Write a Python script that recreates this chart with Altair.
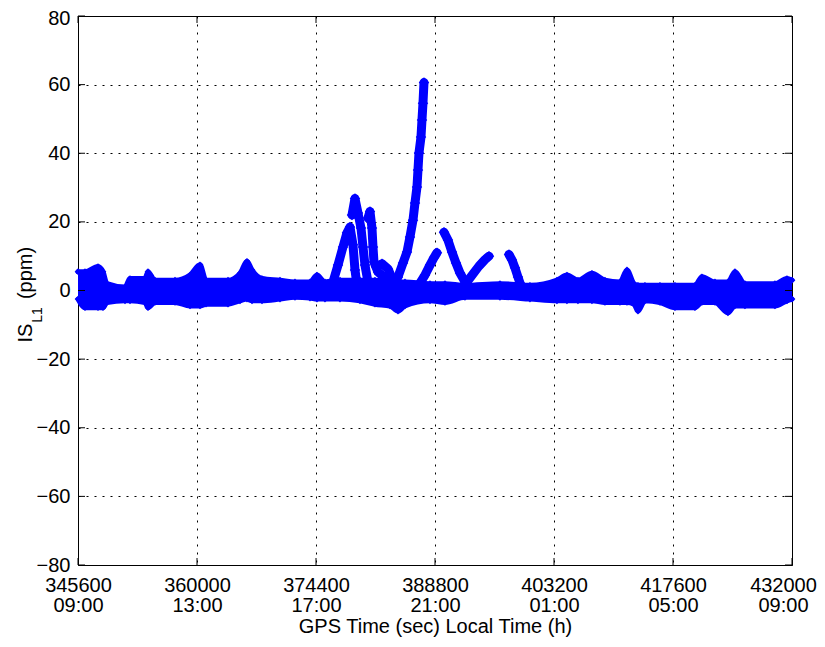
import altair as alt
import pandas as pd

BLUE = "#0000FF"
FONT = "Liberation Sans"

# ---- axes ----
x_ticks = [345600, 360000, 374400, 388800, 403200, 417600, 432000]
local_time = ["09:00", "13:00", "17:00", "21:00", "01:00", "05:00", "09:00"]
y_ticks = [-80, -60, -40, -20, 0, 20, 40, 60, 80]
x_title = "GPS Time (sec) Local Time (h)"
y_title_main = ["IS"]
y_title_sub = ["L1"]
y_title_unit = ["(ppm)"]

# ---- dense band around zero (upper / lower envelope) ----
band_x = [345600, 346447, 348020, 348625, 349109, 351287, 351892, 353707, 354070,
          354917, 357337, 359152, 360362, 361088, 363750, 365202, 366049, 366654,
          367864, 370042, 371857, 373672, 374519, 375487, 377302, 379722, 381537,
          383352, 384320, 385167, 388192, 390007, 392427, 396662, 400292, 403559,
          404769, 406100, 407794, 409367, 411182, 412029, 412876, 413360, 414207,
          416022, 417837, 420257, 421104, 422677, 424250, 425097, 426307, 429937,
          431389, 432000]
band_hi = [5.5, 5.5, 7.0, 5.5, 2.0, 1.0, 3.5, 3.5, 5.5,
           3.0, 3.0, 4.5, 7.5, 3.0, 3.0, 5.0, 8.5, 6.0,
           3.5, 3.0, 2.5, 2.5, 4.5, 2.5, 3.0, 3.0, 3.0,
           2.5, 2.5, 2.5, 2.0, 2.0, 1.5, 2.0, 1.5, 3.0,
           4.5, 3.0, 5.0, 3.0, 2.5, 6.0, 2.0, 1.5, 1.5,
           1.5, 1.5, 1.5, 4.0, 2.5, 2.5, 5.5, 2.0, 2.0,
           3.5, 3.0]
band_lo = [-2.5, -5.0, -5.0, -5.0, -3.5, -3.0, -3.0, -3.5, -5.0,
           -3.5, -3.5, -4.5, -4.5, -4.0, -4.0, -3.0, -2.5, -3.0,
           -3.0, -2.5, -2.0, -2.2, -2.5, -2.5, -2.5, -3.0, -4.0,
           -4.5, -6.0, -4.5, -3.0, -3.5, -2.0, -2.0, -2.5, -3.0,
           -3.0, -3.0, -3.0, -3.5, -3.5, -3.5, -4.0, -6.0, -3.0,
           -3.5, -5.0, -5.0, -3.5, -3.5, -6.5, -4.5, -4.5, -4.5,
           -3.0, -2.5]

# ---- individual satellite tracks rising out of the band ----
track_a_x = [376455, 377060, 377665, 378149, 378512, 378875, 379117, 379359]
track_a_y = [2.5, 7.4, 12.7, 16.8, 18.5, 13.3, 6.0, 1.6]
track_b_x = [378754, 379117, 379480, 379843, 380085, 380327, 380690]
track_b_y = [22.0, 26.8, 22.6, 18.2, 12.7, 7.4, 2.5]
track_c_x = [380690, 380932, 381174, 381295, 381416, 381900, 382747, 383594]
track_c_y = [21.1, 23.0, 18.2, 12.7, 8.3, 5.4, 3.6, 1.9]
track_c2_x = [381658, 382384, 383110, 383594]
track_c2_y = [7.0, 7.8, 6.3, 3.6]
track_d_x = [383715, 384320, 384925, 385409, 385772, 386135, 386377, 386619,
             386740, 386861, 387103, 387224, 387345, 387466]
track_d_y = [1.9, 3.9, 8.0, 11.2, 15.6, 20.5, 25.5, 30.2,
             35.1, 40.1, 44.7, 49.7, 54.6, 60.6]
track_e_x = [387000, 387587, 388192, 388676, 389039]
track_e_y = [2.2, 4.5, 7.4, 9.6, 11.0]
track_f_x = [389886, 390370, 390854, 391338, 391822, 392427]
track_f_y = [17.0, 14.7, 11.2, 8.0, 5.1, 2.5]
track_g_x = [392669, 393395, 394121, 394847, 395331]
track_g_y = [2.5, 4.8, 7.1, 9.0, 10.0]
track_h_x = [397751, 398114, 398477, 398840, 399082]
track_h_y = [10.5, 8.9, 6.6, 3.9, 2.2]

band_df = pd.DataFrame({"x": band_x, "hi": band_hi, "lo": band_lo})
rows = []
for name, xs_, ys_ in [("A", track_a_x, track_a_y), ("B", track_b_x, track_b_y),
                       ("C", track_c_x, track_c_y), ("C2", track_c2_x, track_c2_y),
                       ("D", track_d_x, track_d_y), ("E", track_e_x, track_e_y),
                       ("F", track_f_x, track_f_y), ("G", track_g_x, track_g_y),
                       ("H", track_h_x, track_h_y)]:
    for i, (xv, yv) in enumerate(zip(xs_, ys_)):
        rows.append({"track": name, "i": i, "x": xv, "y": yv})
track_df = pd.DataFrame(rows)

W, H = 714, 549
xs = alt.Scale(domain=[x_ticks[0], x_ticks[-1]], nice=False, zero=False)
ys = alt.Scale(domain=[y_ticks[0], y_ticks[-1]], nice=False, zero=False)

cond = "".join(f"datum.value == {v} ? '{t}' : " for v, t in zip(x_ticks, local_time)) + "''"
x_axis = alt.Axis(values=x_ticks, format="d", labelExpr=f"[datum.label, {cond}]",
                  grid=True, gridDash=[2, 6], gridColor="#000000", gridOpacity=1, gridWidth=1,
                  ticks=False, domain=False, labelFont=FONT, labelFontSize=20,
                  labelColor="#000000", labelPadding=10, labelFlush=False, labelOverlap=False,
                  labelLineHeight=20,
                  labelOffset={"condition": {"test": f"datum.value == {x_ticks[-1]}", "value": -9},
                               "value": 0},
                  title=x_title, titleFont=FONT, titleFontSize=20,
                  titleFontWeight="normal", titleColor="#000000", titlePadding=1)
y_axis = alt.Axis(values=y_ticks, grid=True, gridDash=[2, 6], gridColor="#000000",
                  gridOpacity=1, gridWidth=1, ticks=False, domain=False, labelFont=FONT,
                  labelFontSize=20, labelColor="#000000", labelPadding=8,
                  labelOffset={"condition": {"test": f"datum.value == {y_ticks[-1]}", "value": 2},
                               "value": 0},
                  labelOverlap=False, title="")


def X(field):
    return alt.X(field, scale=xs, axis=x_axis)


def Y(field):
    return alt.Y(field, scale=ys, axis=y_axis)


band_area = alt.Chart(band_df).mark_area(color=BLUE, opacity=1, interpolate="monotone").encode(
    x=X("x:Q"), y=Y("hi:Q"), y2="lo:Q")
band_hi_line = alt.Chart(band_df).mark_line(color=BLUE, strokeWidth=5, strokeJoin="round",
                                            strokeCap="round", interpolate="monotone").encode(
    x=X("x:Q"), y=Y("hi:Q"))
band_lo_line = alt.Chart(band_df).mark_line(color=BLUE, strokeWidth=5, strokeJoin="round",
                                            strokeCap="round", interpolate="monotone").encode(
    x=X("x:Q"), y=Y("lo:Q"))
band_hi_pts = alt.Chart(band_df).mark_point(shape="diamond", filled=True, color=BLUE,
                                            opacity=1, size=45).encode(x=X("x:Q"), y=Y("hi:Q"))
band_lo_pts = alt.Chart(band_df).mark_point(shape="diamond", filled=True, color=BLUE,
                                            opacity=1, size=45).encode(x=X("x:Q"), y=Y("lo:Q"))

track_lines = alt.Chart(track_df).mark_line(color=BLUE, strokeWidth=9, strokeCap="round",
                                            strokeJoin="round").encode(
    x=X("x:Q"), y=Y("y:Q"), detail="track:N", order="i:Q")
track_pts = alt.Chart(track_df).mark_point(shape="diamond", filled=True, color=BLUE,
                                           opacity=1, size=110).encode(x=X("x:Q"), y=Y("y:Q"))

xt_df = pd.DataFrame({"x": x_ticks})
yt_df = pd.DataFrame({"y": y_ticks})
TL = 7
tick_bottom = alt.Chart(xt_df).mark_rule(color="#000000", strokeWidth=1).encode(
    x=X("x:Q"), y=alt.value(H - TL), y2=alt.value(H))
tick_top = alt.Chart(xt_df).mark_rule(color="#000000", strokeWidth=1).encode(
    x=X("x:Q"), y=alt.value(0), y2=alt.value(TL))
tick_left = alt.Chart(yt_df).mark_rule(color="#000000", strokeWidth=1).encode(
    y=Y("y:Q"), x=alt.value(0), x2=alt.value(TL))
tick_right = alt.Chart(yt_df).mark_rule(color="#000000", strokeWidth=1).encode(
    y=Y("y:Q"), x=alt.value(W - TL), x2=alt.value(W))

t_main = alt.Chart(pd.DataFrame({"t": y_title_main})).mark_text(
    font=FONT, fontSize=20, angle=270, align="center", baseline="alphabetic", color="#000000"
).encode(text="t:N", x=alt.value(-46), y=alt.value(317))
t_sub = alt.Chart(pd.DataFrame({"t": y_title_sub})).mark_text(
    font=FONT, fontSize=14, angle=270, align="center", baseline="alphabetic", color="#000000"
).encode(text="t:N", x=alt.value(-36), y=alt.value(299))
t_unit = alt.Chart(pd.DataFrame({"t": y_title_unit})).mark_text(
    font=FONT, fontSize=20, angle=270, align="center", baseline="alphabetic", color="#000000"
).encode(text="t:N", x=alt.value(-46), y=alt.value(257))

chart = alt.layer(
    band_area, band_hi_line, band_lo_line, band_hi_pts, band_lo_pts,
    track_lines, track_pts,
    tick_bottom, tick_top, tick_left, tick_right,
    t_main, t_sub, t_unit,
).properties(
    width=W, height=H,
    autosize=alt.AutoSizeParams(type="none"),
    padding={"left": 70, "top": 8, "right": 25, "bottom": 72},
    background="white",
).configure_view(stroke="#000000", strokeWidth=1)

chart.save("out.html", embed_options={"renderer": "svg", "actions": False})
